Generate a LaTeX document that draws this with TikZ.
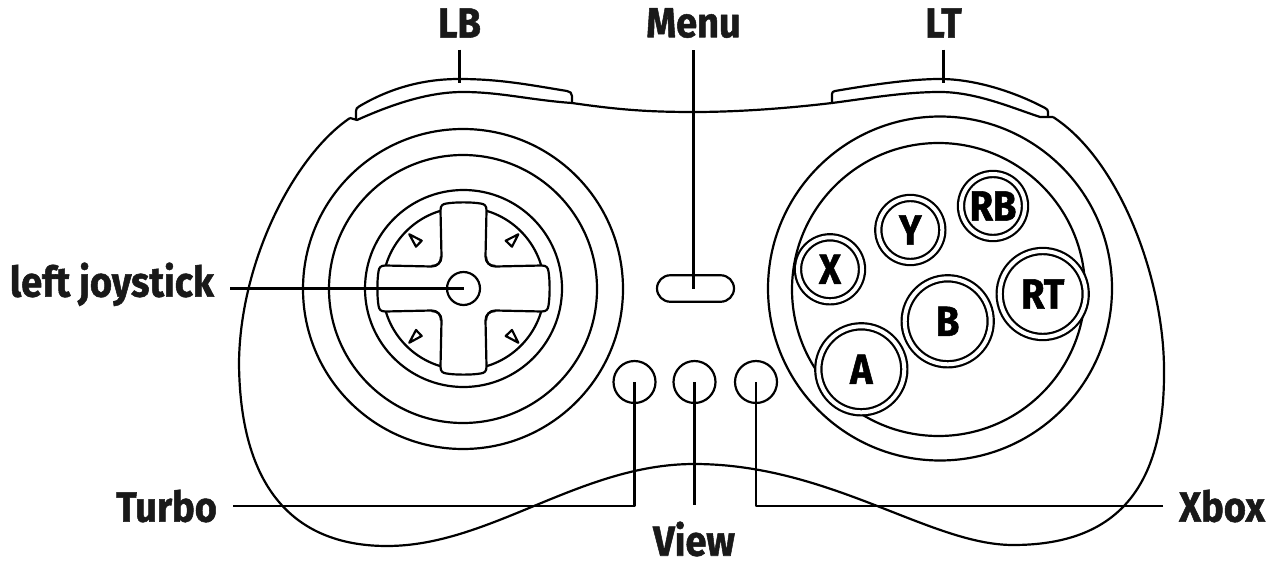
\documentclass[tikz,border=0pt]{standalone}
\usepackage{fontspec}
\setmainfont[FakeStretch=0.9,FakeBold=1.2]{Fira Sans}
\usetikzlibrary{calc}
\usetikzlibrary{positioning}

\tikzset{
  label text/.style={font=\fontsize{24pt}{24pt}\selectfont\bfseries, text=black!90, inner xsep=0.3cm, inner ysep=0.22cm},
  small button/.style={circle, draw, fill=white, double, double distance=0.08cm, minimum size=1.28cm, inner sep=0pt, font=\fontsize{24pt}{24pt}\selectfont\bfseries},
  large button/.style={small button, minimum size=1.72cm},
  front button/.style={circle, draw, inner sep=0pt, minimum size=0.84cm},
}

\begin{document}
\begin{tikzpicture}[x=0.02cm, y=-0.02cm, line width=1.25pt, line join=round]
\useasboundingbox (0,0) rectangle (1270,574);

% body
\draw (350,118) .. controls (295,155) and (240,260) .. (239,363)
      .. controls (240,495) and (300,546) .. (387,546)
      .. controls (490,546) and (580,464) .. (694,464)
      .. controls (830,464) and (930,545) .. (1013,545)
      .. controls (1115,545) and (1165,490) .. (1164,370)
      .. controls (1164,280) and (1120,160) .. (1053,117);
\draw (572,103) .. controls (620,110) and (650,112) .. (694,112) .. controls (740,112) and (790,108) .. (832,103);

% shoulder buttons
\draw (356,120) -- (356,111) .. controls (356,109) and (357,107.5) .. (359,106.5)
      .. controls (395,85) and (430,79) .. (459,79)
      .. controls (500,79) and (530,85) .. (567,91)
      .. controls (570,91.5) and (572,93) .. (572,96) -- (572,103);
\draw (350,118) -- (357,120) .. controls (395,103) and (430,92) .. (463,92) .. controls (500,92) and (530,100) .. (572,103);
\draw (832,103) -- (832,94) .. controls (832,92) and (833,91.5) .. (835,91)
      .. controls (870,85) and (910,79) .. (940,79)
      .. controls (975,79) and (1015,92) .. (1045,108)
      .. controls (1047,109) and (1048,110) .. (1048,112) -- (1048,118);
\draw (832,103) .. controls (870,98) and (905,92) .. (940,92) .. controls (975,92) and (1010,107) .. (1040,117) -- (1053,117);

% left side
\draw (463,289) circle [radius=160];
\draw (463,289) circle [radius=134];
\draw (463.5,288.5) circle [radius=98.5];
\draw (463.5,288.5) circle [radius=81];

\fill[white] (441,203) rectangle (486,374);
\fill[white] (377,266) rectangle (551,311);
\foreach \a in {0,90,180,270} {
  \draw[shift={(463.5,288.5)}, rotate=\a] (-32,-22.5) .. controls (-26,-22.5) and (-22,-26) .. (-22,-32)
        -- (-23,-78) .. controls (-23,-83) and (-21,-84.5) .. (-17,-85)
        .. controls (-8,-86.5) and (8,-86.5) .. (17,-85)
        .. controls (21,-84.5) and (23,-83) .. (23,-78)
        -- (22,-32) .. controls (22,-26) and (26,-22.5) .. (32,-22.5);
}
\node[circle, draw, inner sep=0pt, minimum size=0.66cm] (hub) at (463.5,288.5) {};

\draw (409.3,234.3) -- (421.7,240.7) -- (416,246.7) -- cycle;
\draw (518.3,234.3) -- (505.7,240.7) -- (512,246.7) -- cycle;
\draw (409.3,342.7) -- (421.7,336) -- (416,330) -- cycle;
\draw (518.3,342.7) -- (505.7,336) -- (512,330) -- cycle;

% right side
\draw (940,288.5) circle [radius=172];
\draw (938.5,289.5) circle [radius=146.5];

\node[small button] (xbtn) at (830,269.3) {X};
\node[small button] (ybtn) at (910.3,230) {Y};
\node[small button] (rbbtn) at (993,206) {RB};
\node[large button] (rtbtn) at (1042.7,294) {RT};
\node[large button] (bbtn) at (947.7,321.3) {B};
\node[large button] (abtn) at (861.3,369.3) {A};

% middle
\node[draw, rounded corners=0.265cm, minimum width=1.54cm, minimum height=0.53cm, inner sep=0pt] (menubtn) at (695.5,288.5) {};
\node[front button] (turbobtn) at (634.5,382) {};
\node[front button] (viewbtn) at (694.5,382) {};
\node[front button] (xboxbtn) at (756,382) {};

% labels
\node[label text] (lb) at (459.5,23) {LB};
\node[label text] (menu) at (693.5,23) {Menu};
\node[label text] (lt) at (943.5,23) {LT};
\node[label text, anchor=base east] (joy) at (230,296.7) {left joystick};
\node[label text, anchor=east] (turbo) at (233,506) {Turbo};
\node[label text, anchor=west] (xbox) at (1163,506) {Xbox};
\node[label text] (view) at (694,539) {View};

\coordinate (lbend) at (459.5,83);
\coordinate (ltend) at (943.5,83);
\coordinate (viewend) at (694.5,505);

% leaders
\draw (lb.south) -- (lbend);
\draw (lt.south) -- (ltend);
\draw (menu.south) -- (menu.south |- menubtn.center);
\draw (joy.east |- hub.center) -- (hub.center);
\draw (turbo.east) -| (turbobtn.center);
\draw (xbox.west) -| (xboxbtn.center);
\draw (viewbtn.center) -- (viewend);
\end{tikzpicture}
\end{document}
